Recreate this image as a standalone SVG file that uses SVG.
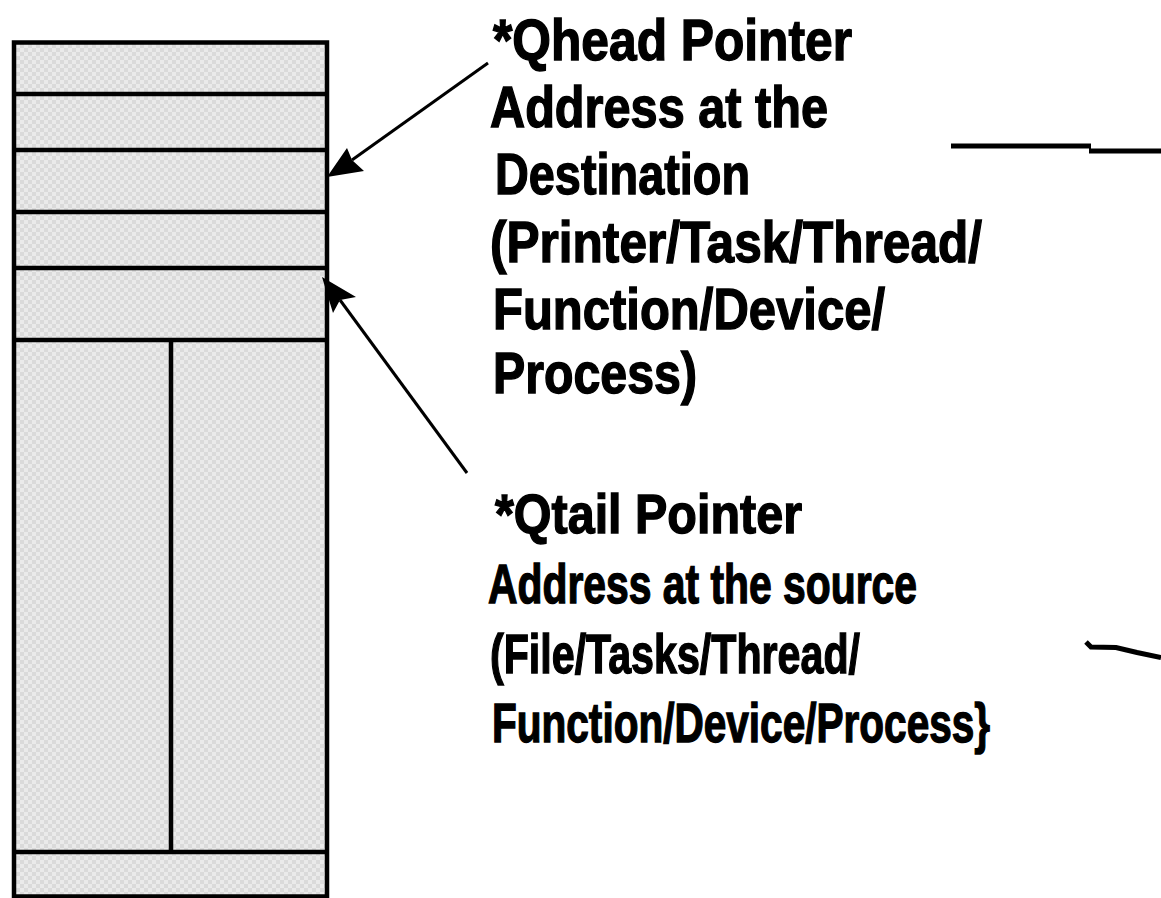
<svg xmlns="http://www.w3.org/2000/svg" width="1161" height="898" viewBox="0 0 1161 898">
  <defs>
    <pattern id="chk" width="8" height="8" patternUnits="userSpaceOnUse">
      <rect width="8" height="8" fill="#eaeaea"/>
      <rect width="4" height="4" fill="#dadada"/>
      <rect x="4" y="4" width="4" height="4" fill="#dadada"/>
    </pattern>
    <style>
      .box { fill: url(#chk); stroke: #000; stroke-width: 4.5; }
      .div { stroke: #000; stroke-width: 4.5; fill: none; }
      .lbl { font-family: "Liberation Sans", Arial, sans-serif; font-weight: bold; font-size: 57px; fill: #000; stroke: #000; stroke-width: 1.4; }
      .lbl2 { font-family: "Liberation Sans", Arial, sans-serif; font-weight: bold; font-size: 56px; fill: #000; stroke: #000; stroke-width: 1.4; }
      .conn { stroke: #000; stroke-width: 3; fill: none; }
      .head { fill: #000; stroke: none; }
      .tick { stroke: #000; stroke-width: 5; fill: none; }
    </style>
  </defs>
  <rect width="1161" height="898" fill="#fff"/>

  <g id="queue">
    <rect class="box" x="14" y="42.5" width="313" height="854"/>
    <line class="div" x1="14" y1="94" x2="327" y2="94"/>
    <line class="div" x1="14" y1="150" x2="327" y2="150"/>
    <line class="div" x1="14" y1="212" x2="327" y2="212"/>
    <line class="div" x1="14" y1="268" x2="327" y2="268"/>
    <line class="div" x1="14" y1="340" x2="327" y2="340"/>
    <line class="div" x1="171" y1="340" x2="171" y2="852"/>
    <line class="div" x1="14" y1="852" x2="327" y2="852"/>
  </g>

  <g id="qhead-label">
    <text class="lbl" x="493" y="60" textLength="359" lengthAdjust="spacingAndGlyphs">*Qhead Pointer</text>
    <text class="lbl" x="490" y="127" textLength="338" lengthAdjust="spacingAndGlyphs">Address at the</text>
    <text class="lbl" x="495" y="194" textLength="255" lengthAdjust="spacingAndGlyphs">Destination</text>
    <text class="lbl" x="490" y="262" textLength="492" lengthAdjust="spacingAndGlyphs">(Printer/Task/Thread/</text>
    <text class="lbl" x="493" y="329" textLength="392" lengthAdjust="spacingAndGlyphs">Function/Device/</text>
    <text class="lbl" x="493" y="393" textLength="204" lengthAdjust="spacingAndGlyphs">Process)</text>
  </g>

  <g id="qtail-label">
    <text class="lbl2" x="495" y="533" textLength="307" lengthAdjust="spacingAndGlyphs">*Qtail Pointer</text>
    <text class="lbl2" x="488" y="603" textLength="429" lengthAdjust="spacingAndGlyphs">Address at the source</text>
    <text class="lbl2" x="490" y="673" textLength="370" lengthAdjust="spacingAndGlyphs">(File/Tasks/Thread/</text>
    <g transform="translate(492,742) scale(0.724,1)">
      <text class="lbl2" x="0" y="0" textLength="688" lengthAdjust="spacingAndGlyphs">Function/Device/Process}</text>
    </g>
  </g>

  <g id="connectors">
    <line class="conn" x1="488" y1="63" x2="352" y2="160"/>
    <polygon class="head" points="327,177 347,148 352,160 364,171"/>
    <line class="conn" x1="467" y1="473" x2="340" y2="300"/>
    <polygon class="head" points="322,277 356,297 340,300 333,313"/>
    <path class="tick" d="M951,146 L1091,146 M1089,151 L1161,151"/>
    <path class="tick" d="M1086,642 L1091,647 L1116,647.5 L1137,652.5 L1161,657.5"/>
  </g>
</svg>
